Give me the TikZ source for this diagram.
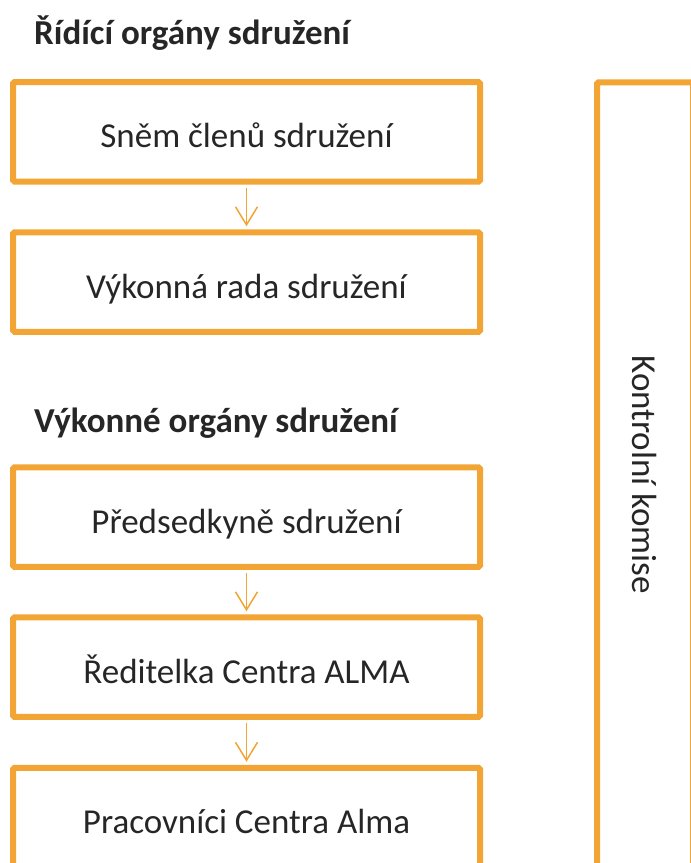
\documentclass[tikz,border=0pt]{standalone}
\usepackage{fontspec}
\setmainfont{Carlito}
\usetikzlibrary{arrows.meta}
\definecolor{orgorange}{RGB}{242,164,52}
\definecolor{txtgray}{RGB}{38,38,38}
\begin{document}
\begin{tikzpicture}[x=1pt,y=-1pt,
  orgbox/.style={draw=orgorange, line width=6pt, rounded corners=1.5pt,
    minimum width=467pt, minimum height=99.5pt, inner sep=0pt,
    text=txtgray, font=\fontsize{35}{42}\selectfont,
    text height=36pt, text depth=4pt},
  heading/.style={anchor=base west, inner sep=0pt, text=txtgray,
    font=\fontsize{35}{42}\selectfont\bfseries},
  flow/.style={draw=orgorange, line width=1.5pt,
    -{Straight Barb[length=18pt,width=22pt]}, shorten >=3pt, shorten <=3pt}
]
\useasboundingbox (0,0) rectangle (691,863);
\clip (0,0) rectangle (691,863);
\node[heading] (h1) at (34,44) {Řídící orgány sdružení};
\node[heading] (h2) at (34,432) {Výkonné orgány sdružení};
\node[orgbox] (b1) at (246.5,131.75) {Sněm členů sdružení};
\node[orgbox] (b2) at (246.5,282) {Výkonná rada sdružení};
\node[orgbox] (b3) at (246.5,517) {Předsedkyně sdružení};
\node[orgbox] (b4) at (246.5,667) {Ředitelka Centra ALMA};
\node[orgbox] (b5) at (246.5,817.5) {Pracovníci Centra Alma};
\node[orgbox, rotate=-90, minimum width=785pt, minimum height=96pt,
  text height=34pt, text depth=8pt] (kk) at (645,474.75) {Kontrolní komise};
\draw[flow] (b1.south) -- (b2.north);
\draw[flow] (b3.south) -- (b4.north);
\draw[flow] (b4.south) -- (b5.north);
\end{tikzpicture}
\end{document}
